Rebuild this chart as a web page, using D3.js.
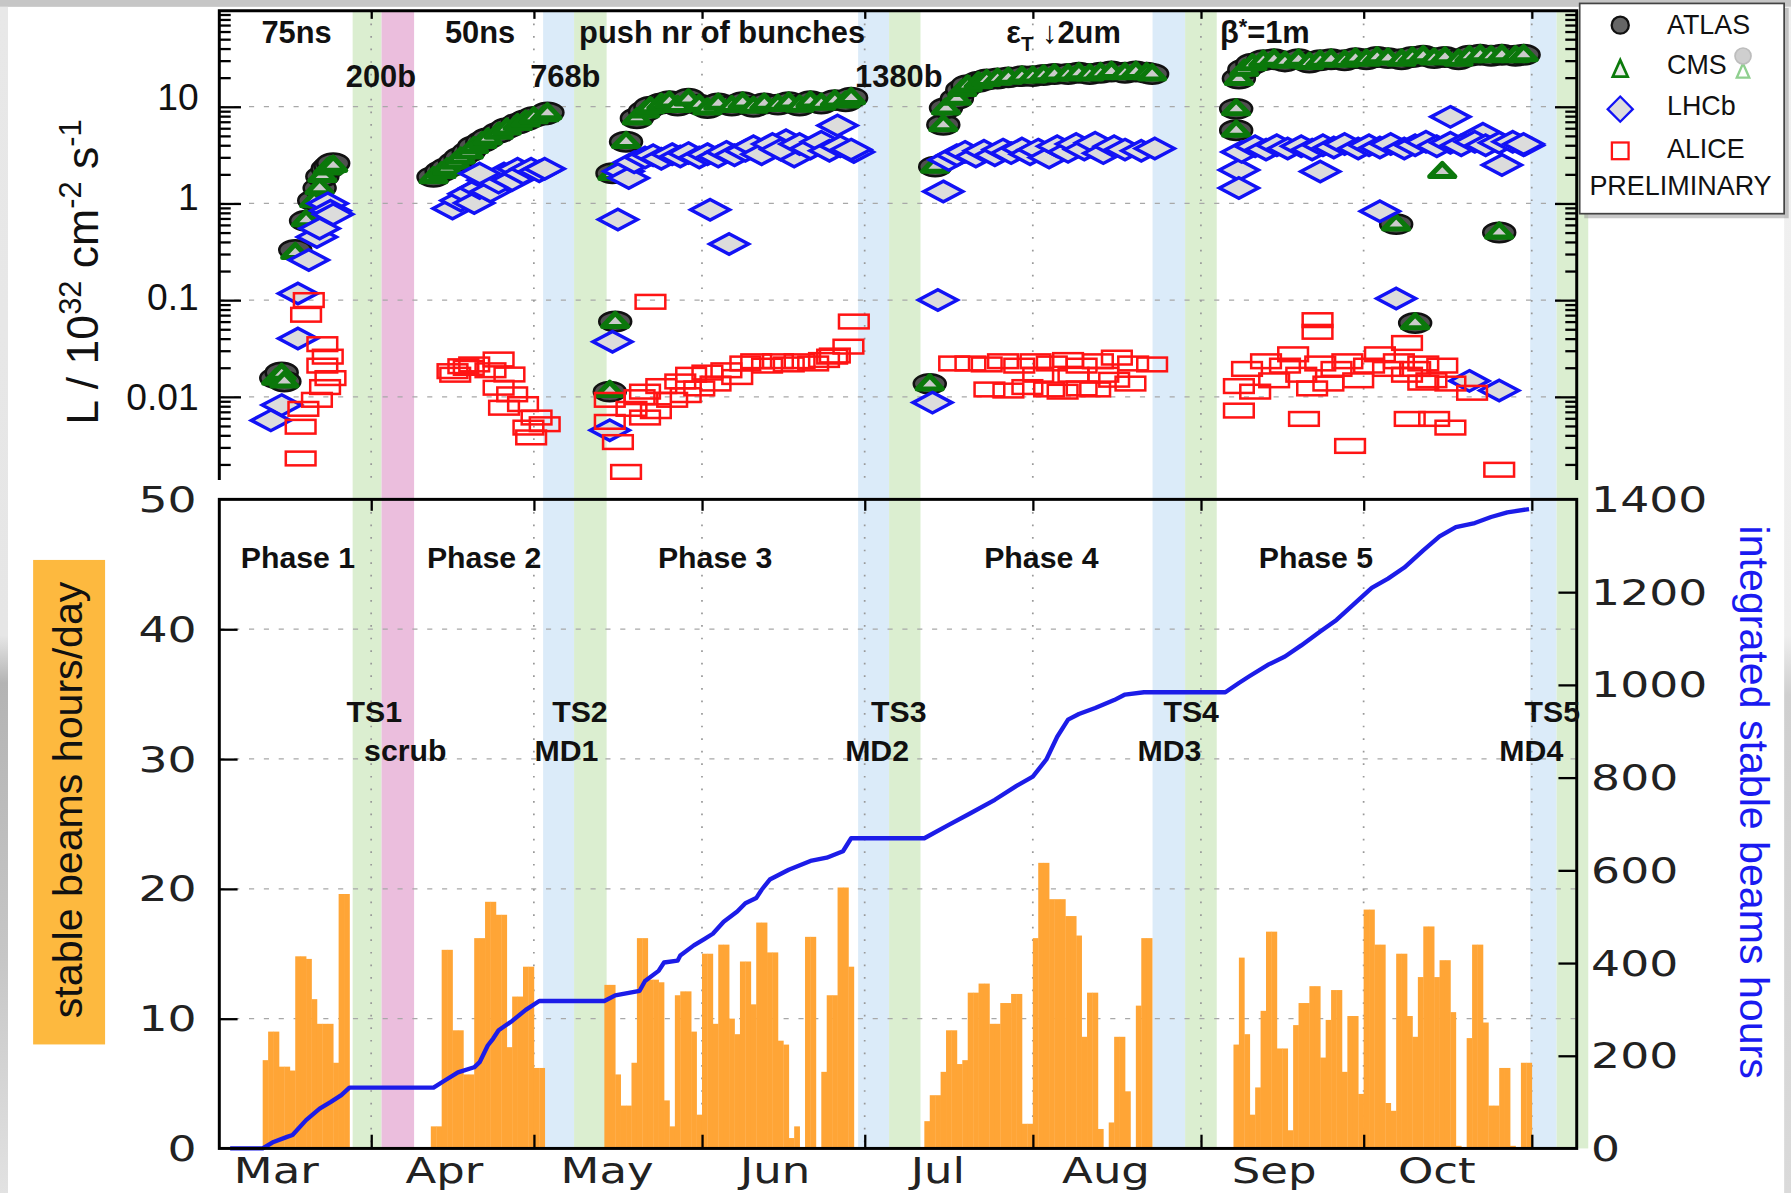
<!DOCTYPE html>
<html><head><meta charset="utf-8">
<script src="https://cdn.jsdelivr.net/npm/d3@7/dist/d3.min.js"></script>
<style>html,body{margin:0;padding:0;background:#fff;overflow:hidden}</style>
</head><body>
<svg id="chart"></svg>
<script>
// ---------------- DATA ----------------
const xDomain = ["2011-03-04", "2011-11-09T07"];
const monthNames = ["Mar","Apr","May","Jun","Jul","Aug","Sep","Oct"];
const monthStarts = ["2011-03-01","2011-04-01","2011-05-01","2011-06-01","2011-07-01","2011-08-01","2011-09-01","2011-10-01","2011-11-01"];
const yTopDomain = [0.00138, 98];
const yTopTicks = [10, 1, 0.1, 0.01];
const yTopLabels = ["10", "1", "0.1", "0.01"];
const yLeftTicks = [0, 10, 20, 30, 40, 50];
const yRightTicks = [0, 200, 400, 600, 800, 1000, 1200, 1400];

// shaded periods: [start, end, kind]
const bands = [
  ["2011-03-28T14","2011-04-02T22","TS"],
  ["2011-04-02T22","2011-04-08T22","scrub"],
  ["2011-05-02T17","2011-05-08T10","MD"],
  ["2011-05-08T10","2011-05-14T10","TS"],
  ["2011-06-29T19","2011-07-05T12","MD"],
  ["2011-07-05T12","2011-07-11T07","TS"],
  ["2011-08-23T02","2011-08-29T02","MD"],
  ["2011-08-29T02","2011-09-03T22","TS"],
  ["2011-10-31T17","2011-11-05T14","MD"],
  ["2011-11-05T14","2011-11-11T10","TS"]
];

// stable beam hours per day
const dailyHours = [
["2011-03-12",6.8],["2011-03-13",9.0],["2011-03-14",9.0],["2011-03-15",6.3],["2011-03-16",6.3],["2011-03-17",6.0],["2011-03-18",14.8],["2011-03-19",14.8],["2011-03-20",14.6],["2011-03-21",11.5],["2011-03-22",9.6],["2011-03-23",9.6],["2011-03-24",9.6],["2011-03-25",6.6],["2011-03-26",19.6],["2011-03-27",19.6],
["2011-04-12",1.7],["2011-04-13",1.7],["2011-04-14",15.3],["2011-04-15",15.3],["2011-04-16",9.1],["2011-04-17",9.1],["2011-04-18",5.7],["2011-04-19",5.7],["2011-04-20",16.2],["2011-04-21",16.2],["2011-04-22",19.0],["2011-04-23",19.0],["2011-04-24",18.0],["2011-04-25",18.0],["2011-04-26",7.8],["2011-04-27",11.7],["2011-04-28",11.7],["2011-04-29",14.0],["2011-04-30",14.0],["2011-05-01",6.2],["2011-05-02",6.2],
["2011-05-14",12.6],["2011-05-15",12.6],["2011-05-16",5.7],["2011-05-17",3.3],["2011-05-18",3.3],["2011-05-19",6.6],["2011-05-20",16.2],["2011-05-21",16.2],["2011-05-22",13.0],["2011-05-23",13.0],["2011-05-24",12.8],["2011-05-25",3.7],["2011-05-26",1.7],["2011-05-27",11.8],["2011-05-28",12.1],["2011-05-29",12.1],["2011-05-30",9.0],["2011-05-31",2.6],
["2011-06-01",15.0],["2011-06-02",15.0],["2011-06-03",9.6],["2011-06-04",15.7],["2011-06-05",15.7],["2011-06-06",10.0],["2011-06-07",8.8],["2011-06-08",14.4],["2011-06-09",14.4],["2011-06-10",11.1],["2011-06-11",17.4],["2011-06-12",17.4],["2011-06-13",15.1],["2011-06-14",15.1],["2011-06-15",8.3],["2011-06-16",8.0],["2011-06-17",0.8],["2011-06-18",1.7],["2011-06-20",16.3],["2011-06-21",16.3],["2011-06-23",5.9],["2011-06-24",11.8],["2011-06-25",11.8],["2011-06-26",20.1],["2011-06-27",20.1],["2011-06-28",14.0],
["2011-07-12",2.1],["2011-07-13",4.1],["2011-07-14",4.1],["2011-07-15",5.9],["2011-07-16",9.1],["2011-07-17",9.1],["2011-07-18",6.5],["2011-07-19",6.8],["2011-07-20",12.0],["2011-07-21",12.0],["2011-07-22",12.7],["2011-07-23",12.7],["2011-07-24",9.6],["2011-07-25",9.6],["2011-07-26",11.2],["2011-07-27",11.2],["2011-07-28",11.9],["2011-07-29",11.9],["2011-07-30",1.9],["2011-07-31",1.9],
["2011-08-01",16.2],["2011-08-02",22.0],["2011-08-03",22.0],["2011-08-04",19.2],["2011-08-05",19.2],["2011-08-06",19.2],["2011-08-07",17.9],["2011-08-08",17.9],["2011-08-09",16.4],["2011-08-10",8.6],["2011-08-11",12.0],["2011-08-12",12.0],["2011-08-13",1.5],["2011-08-15",2.0],["2011-08-16",8.6],["2011-08-17",8.6],["2011-08-18",4.4],["2011-08-20",11.0],["2011-08-21",16.2],["2011-08-22",16.2],
["2011-09-07",8.0],["2011-09-08",14.7],["2011-09-09",8.8],["2011-09-10",2.6],["2011-09-11",4.7],["2011-09-12",10.6],["2011-09-13",16.7],["2011-09-14",16.7],["2011-09-15",7.7],["2011-09-16",7.7],["2011-09-17",1.4],["2011-09-18",9.5],["2011-09-19",11.2],["2011-09-20",11.2],["2011-09-21",12.5],["2011-09-22",12.5],["2011-09-23",7.0],["2011-09-24",9.9],["2011-09-25",12.2],["2011-09-26",12.2],["2011-09-27",5.9],["2011-09-28",10.2],["2011-09-29",10.2],["2011-09-30",4.2],
["2011-10-01",18.4],["2011-10-02",18.4],["2011-10-03",15.7],["2011-10-04",15.7],["2011-10-05",3.5],["2011-10-06",2.9],["2011-10-07",15.0],["2011-10-08",15.0],["2011-10-09",10.2],["2011-10-10",8.6],["2011-10-11",13.2],["2011-10-12",17.1],["2011-10-13",17.1],["2011-10-14",13.2],["2011-10-15",14.5],["2011-10-16",14.5],["2011-10-17",10.5],["2011-10-18",0.2],["2011-10-20",8.5],["2011-10-21",15.7],["2011-10-22",15.7],["2011-10-23",9.7],["2011-10-24",3.3],["2011-10-25",3.3],["2011-10-26",6.2],["2011-10-27",6.2],["2011-10-28",0.2],["2011-10-30",6.6],["2011-10-31",6.6]
];

// integrated stable beams hours
const integratedHours = [
["2011-03-06",0],["2011-03-12",0],["2011-03-14",14],["2011-03-16T12",25],["2011-03-17T12",29],["2011-03-20",61],["2011-03-22T12",86],["2011-03-24T12",100],["2011-03-26T12",115],["2011-03-28",131],
["2011-04-12T12",131],["2011-04-14T12",146],["2011-04-17",164],["2011-04-20",175],["2011-04-21",186],["2011-04-22T12",222],["2011-04-23T12",237],["2011-04-24T12",255],["2011-04-27",275],["2011-04-29T12",299],["2011-05-02",318],
["2011-05-14",318],["2011-05-16",330],["2011-05-20T12",340],["2011-05-21T12",361],["2011-05-24",383],["2011-05-25",401],["2011-05-27T12",405],["2011-05-28",416],["2011-05-30T12",438],["2011-06-01T12",452],["2011-06-03",463],["2011-06-05",489],["2011-06-07T12",511],["2011-06-09",529],["2011-06-11",540],["2011-06-12",558],["2011-06-13T12",580],["2011-06-17",601],["2011-06-21",620],["2011-06-24",627],["2011-06-27",641],["2011-06-28T12",669],
["2011-07-12",669],["2011-07-16T12",698],["2011-07-20T12",723],["2011-07-25",752],["2011-07-29",782],["2011-08-01",802],["2011-08-03T12",839],["2011-08-05T12",888],["2011-08-07T12",925],["2011-08-09T12",937],["2011-08-12T12",950],["2011-08-16",967],["2011-08-18",979],["2011-08-21T12",984],
["2011-09-05T12",984],["2011-09-08",1004],["2011-09-10",1019],["2011-09-13T12",1044],["2011-09-16T12",1061],["2011-09-19T12",1085],["2011-09-23",1115],["2011-09-26",1140],["2011-09-29",1172],["2011-10-02T12",1209],["2011-10-05T12",1229],["2011-10-08T12",1253],["2011-10-12",1290],["2011-10-15",1320],["2011-10-18",1340],["2011-10-21T12",1349],["2011-10-24T12",1362],["2011-10-27T12",1372],["2011-10-31T12",1379]
];

// peak luminosity per fill, units 1e32 cm^-2 s^-1
const atlasLumi = [
["2011-03-14T12",0.0156],["2011-03-15T12",0.0178],["2011-03-16",0.0144],["2011-03-18",0.33],["2011-03-20",0.66],["2011-03-21T12",1.07],["2011-03-22T12",1.44],["2011-03-23",1.9],["2011-03-24",2.3],["2011-03-24T12",2.45],["2011-03-25",2.6],
["2011-04-12T12",1.88],["2011-04-14",2.15],["2011-04-15",2.33],["2011-04-16T12",2.67],["2011-04-17T12",2.98],["2011-04-19",3.41],["2011-04-20",3.9],["2011-04-21T12",4.34],["2011-04-22T12",4.71],["2011-04-24T12",5.38],["2011-04-26",6.0],["2011-04-28",6.68],["2011-04-29T12",7.24],["2011-05-01",7.85],["2011-05-03",8.28],["2011-05-03T12",8.72],
["2011-05-15",0.0113],["2011-05-16",0.06],["2011-05-15T12",2.05],["2011-05-18",4.34],["2011-05-20",7.6],["2011-05-21T12",9.0],["2011-05-22T12",10],["2011-05-24T12",10.8],["2011-05-26",11.4],["2011-05-27T12",10.3],["2011-05-29T12",12.1],["2011-05-31T12",10.5],["2011-06-02",9.7],["2011-06-04",10.8],["2011-06-06T12",10.3],["2011-06-08T12",11.1],["2011-06-10T12",10],["2011-06-12T12",10.8],["2011-06-15",10.5],["2011-06-17",11.1],["2011-06-19",10.3],["2011-06-21",11.4],["2011-06-23",10.8],["2011-06-25T12",11.7],["2011-06-27T12",11.4],["2011-06-28T12",12.4],
["2011-07-13",0.0136],["2011-07-14",2.4],["2011-07-15T12",6.5],["2011-07-16",9.7],["2011-07-18",12.1],["2011-07-19",15],["2011-07-20",16.7],["2011-07-22",18.1],["2011-07-23T12",19.1],["2011-07-25T12",19.6],["2011-07-27T12",20.1],["2011-07-30",20.7],["2011-08-01",20.7],["2011-08-03",21.3],["2011-08-05",21.8],["2011-08-07T12",21.8],["2011-08-09T12",22.4],["2011-08-11T12",21.8],["2011-08-13T12",22.4],["2011-08-15T12",23.1],["2011-08-18",22.4],["2011-08-20",23.1],["2011-08-22",22.4],["2011-08-23",21.8],
["2011-09-07T12",9.5],["2011-09-07T12",5.7],["2011-09-08",19.6],["2011-09-09",24.3],["2011-09-10T12",27.8],["2011-09-12T12",30.2],["2011-09-14T12",31],["2011-09-16T12",29.4],["2011-09-19",31],["2011-09-21",28.6],["2011-09-23",30.2],["2011-09-25",31],["2011-09-27T12",30.2],["2011-09-29T12",31.8],["2011-10-01T12",31],["2011-10-03T12",32.7],["2011-10-05T12",31.8],["2011-10-08",31],["2011-10-10",32.7],["2011-10-12",33.6],["2011-10-14",31.8],["2011-10-16",32.7],["2011-10-18T12",31],["2011-10-20T12",33.6],["2011-10-22T12",34.5],["2011-10-24T12",33.6],["2011-10-26T12",34.5],["2011-10-29",33.6],["2011-10-30T12",34.5],
["2011-10-07",0.61],["2011-10-26",0.5],["2011-10-10T12",0.058]
];
const cmsLumi = [
["2011-03-14T12",0.016],["2011-03-15T12",0.018],["2011-03-16",0.015],["2011-03-18",0.32],["2011-03-20",0.7],["2011-03-21T12",1.1],["2011-03-22T12",1.5],["2011-03-23",2.0],["2011-03-24",2.4],["2011-03-24T12",2.5],["2011-03-25",2.55],
["2011-04-12T12",1.95],["2011-04-14",2.2],["2011-04-15",2.4],["2011-04-16T12",2.75],["2011-04-17T12",3.1],["2011-04-19",3.5],["2011-04-20",4.0],["2011-04-21T12",4.5],["2011-04-22T12",4.9],["2011-04-24T12",5.6],["2011-04-26",6.2],["2011-04-28",6.9],["2011-04-29T12",7.5],["2011-05-01",8.1],["2011-05-03",8.5],["2011-05-03T12",8.9],
["2011-05-15",0.012],["2011-05-16",0.062],["2011-05-15T12",2.1],["2011-05-18",4.5],["2011-05-20",7.9],["2011-05-21T12",9.3],["2011-05-22T12",10.3],["2011-05-24T12",11.2],["2011-05-26",11.8],["2011-05-27T12",10.6],["2011-05-29T12",12.4],["2011-05-31T12",10.9],["2011-06-02",10.0],["2011-06-04",11.2],["2011-06-06T12",10.6],["2011-06-08T12",11.5],["2011-06-10T12",10.4],["2011-06-12T12",11.2],["2011-06-15",10.9],["2011-06-17",11.5],["2011-06-19",10.7],["2011-06-21",11.8],["2011-06-23",11.2],["2011-06-25T12",12.1],["2011-06-27T12",11.8],["2011-06-28T12",12.8],
["2011-07-13",0.014],["2011-07-14",2.5],["2011-07-15T12",6.7],["2011-07-16",10.0],["2011-07-18",12.6],["2011-07-19",15.5],["2011-07-20",17.3],["2011-07-22",18.7],["2011-07-23T12",19.7],["2011-07-25T12",20.3],["2011-07-27T12",20.8],["2011-07-30",21.4],["2011-08-01",21.4],["2011-08-03",22.0],["2011-08-05",22.5],["2011-08-07T12",22.5],["2011-08-09T12",23.2],["2011-08-11T12",22.5],["2011-08-13T12",23.2],["2011-08-15T12",23.9],["2011-08-18",23.2],["2011-08-20",23.9],["2011-08-22",23.2],["2011-08-23",22.5],
["2011-09-07T12",9.8],["2011-09-07T12",5.9],["2011-09-08",20.2],["2011-09-09",25.1],["2011-09-10T12",28.7],["2011-09-12T12",31.2],["2011-09-14T12",32.0],["2011-09-16T12",30.4],["2011-09-19",32.0],["2011-09-21",29.6],["2011-09-23",31.2],["2011-09-25",32.0],["2011-09-27T12",31.2],["2011-09-29T12",32.9],["2011-10-01T12",32.0],["2011-10-03T12",33.8],["2011-10-05T12",32.9],["2011-10-08",32.0],["2011-10-10",33.8],["2011-10-12",34.7],["2011-10-14",32.9],["2011-10-16",33.8],["2011-10-18T12",32.0],["2011-10-20T12",34.7],["2011-10-22T12",35.6],["2011-10-24T12",34.7],["2011-10-26T12",35.6],["2011-10-29",34.7],["2011-10-30T12",35.6],
["2011-10-07",0.63],["2011-10-26",0.52],["2011-10-10T12",0.060],["2011-10-15T12",2.2]
];
const lhcbLumi = [
["2011-03-15T12",0.0082],["2011-03-13T12",0.0057],["2011-03-18T12",0.040],["2011-03-18T12",0.117],["2011-03-20T12",0.26],["2011-03-22",0.45],["2011-03-22T12",0.55],["2011-03-24",1.0],["2011-03-24T12",0.84],["2011-03-25",0.77],
["2011-04-16",0.885],["2011-04-17T12",1.07],["2011-04-19",1.26],["2011-04-20",1.01],["2011-04-21",1.44],["2011-04-22T12",1.74],["2011-04-23",1.33],["2011-04-24T12",1.64],["2011-04-25T12",2.04],["2011-04-27",1.74],["2011-04-28",2.28],["2011-04-29",2.04],["2011-04-30T12",2.28],["2011-05-02",2.15],["2011-05-03",2.28],["2011-04-21",2.04],
["2011-05-17T12",2.15],["2011-05-18T12",1.83],["2011-05-16T12",0.68],["2011-06-02T12",0.86],["2011-06-06",0.38],["2011-05-15T12",0.037],["2011-05-15",0.0045],["2011-06-26",6.4],["2011-06-29",3.4],["2011-06-18",3.05],["2011-06-16T12",4.5],
["2011-05-19T12",2.67],["2011-05-21T12",2.98],["2011-05-23",3.14],["2011-05-24T12",2.90],["2011-05-26T12",3.23],["2011-05-28",3.06],["2011-05-29T12",3.31],["2011-05-31T12",2.98],["2011-06-02",3.23],["2011-06-04",3.06],["2011-06-05T12",3.41],["2011-06-07",3.14],["2011-06-09",3.50],["2011-06-10T12",3.90],["2011-06-12",3.23],["2011-06-14",4.11],["2011-06-15T12",3.60],["2011-06-19",4.11],["2011-06-21",3.69],["2011-06-23",4.34],["2011-06-24T12",3.50],["2011-06-26T12",3.90],["2011-06-28T12",3.60],
["2011-07-15T12",1.33],["2011-07-14T12",0.1],["2011-07-13T12",0.0087],
["2011-07-16T12",2.82],["2011-07-18",3.14],["2011-07-19T12",3.41],["2011-07-21T12",3.06],["2011-07-23",3.50],["2011-07-25",3.14],["2011-07-26T12",3.60],["2011-07-28",3.31],["2011-07-30",3.69],["2011-07-31T12",3.23],["2011-08-02",3.60],["2011-08-04",2.98],["2011-08-05T12",3.90],["2011-08-07T12",3.41],["2011-08-09",4.11],["2011-08-10T12",3.60],["2011-08-12T12",4.23],["2011-08-14",3.31],["2011-08-16",3.90],["2011-08-18",3.60],["2011-08-21",3.50],["2011-08-23T12",3.69],
["2011-09-08",2.22],["2011-09-08",1.44],["2011-09-23",2.14],["2011-10-17",7.85],["2011-10-26T12",2.5],["2011-10-04",0.83],["2011-10-07",0.104],["2011-10-20T12",0.0146],["2011-10-26",0.0116],["2011-10-30T12",3.98],["2011-10-23",5.26],
["2011-09-08T12",3.41],["2011-09-11",3.90],["2011-09-13",3.60],["2011-09-15",4.0],["2011-09-17",3.69],["2011-09-19T12",3.90],["2011-09-21T12",3.60],["2011-09-23T12",4.0],["2011-09-25T12",3.79],["2011-09-27T12",4.11],["2011-09-30",3.69],["2011-10-02",4.0],["2011-10-04",3.79],["2011-10-06",4.11],["2011-10-08T12",3.69],["2011-10-10T12",4.0],["2011-10-12T12",4.34],["2011-10-14T12",3.90],["2011-10-17",4.23],["2011-10-19",4.0],["2011-10-21T12",4.34],["2011-10-23T12",4.0],["2011-10-26",4.23],["2011-10-28T12",4.34],["2011-10-30T12",4.11]
];
const aliceLumi = [
["2011-03-20T12",0.1],["2011-03-20",0.0705],["2011-03-23",0.035],["2011-03-24",0.026],["2011-03-23",0.021],["2011-03-24T12",0.0156],["2011-03-23T12",0.0126],["2011-03-22",0.0093],["2011-03-19T12",0.0075],["2011-03-19",0.0049],["2011-03-19",0.0023],
["2011-04-16",0.0184],["2011-04-18",0.0207],["2011-04-20",0.0216],["2011-04-24T12",0.0243],["2011-04-26T12",0.017],["2011-04-24T12",0.0124],["2011-04-27",0.0106],["2011-04-25T12",0.0077],["2011-04-29",0.0084],["2011-05-01T12",0.0061],["2011-04-30",0.0048],["2011-05-03",0.0052],["2011-04-30T12",0.0038],["2011-04-16T12",0.0169],["2011-04-19",0.0199],["2011-04-23",0.0188],
["2011-05-22T12",0.096],["2011-06-29",0.06],["2011-06-28",0.033],["2011-06-25",0.026],["2011-05-18",0.00167],["2011-05-16T12",0.0034],["2011-05-15",0.0055],["2011-05-15",0.0093],["2011-05-19",0.0075],["2011-05-20T12",0.0099],["2011-05-21T12",0.0113],["2011-05-23T12",0.0071],["2011-05-24T12",0.0129],["2011-05-26T12",0.0093],["2011-05-28",0.0144],["2011-05-29",0.0104],["2011-05-30",0.0169],["2011-05-31T12",0.0122],["2011-06-02",0.0178],["2011-06-03T12",0.0137],["2011-06-05T12",0.0188],["2011-06-07T12",0.016],["2011-06-09",0.0221],["2011-06-11",0.0233],["2011-06-13",0.021],["2011-06-15",0.0233],["2011-06-17",0.0216],["2011-06-19",0.0233],["2011-06-21T12",0.0221],["2011-06-23T12",0.024],["2011-06-25T12",0.0267],["2011-05-21T12",0.0061],
["2011-07-17T12",0.0221],["2011-07-20T12",0.0221],["2011-07-23T12",0.0216],["2011-07-26T12",0.0233],["2011-07-29T12",0.021],["2011-08-01T12",0.0233],["2011-08-04T12",0.0221],["2011-08-07T12",0.024],["2011-08-10",0.021],["2011-08-13",0.0233],["2011-08-16T12",0.0254],["2011-08-19T12",0.0221],["2011-08-23",0.0216],
["2011-07-24",0.0119],["2011-07-27T12",0.0116],["2011-07-31",0.0126],["2011-08-04",0.0119],["2011-08-06T12",0.0113],["2011-08-10",0.0122],["2011-08-12T12",0.0119],["2011-08-16",0.015],["2011-08-19",0.0137],["2011-08-02",0.0169],["2011-08-08T12",0.0169],["2011-08-14",0.0169],
["2011-09-22T12",0.062],["2011-09-22T12",0.047],["2011-09-08",0.0072],["2011-09-20",0.0059],["2011-09-28T12",0.0031],["2011-10-09T12",0.0059],["2011-10-14",0.0059],["2011-10-17",0.0048],["2011-10-26",0.00176],["2011-10-09",0.036],["2011-10-21",0.011],
["2011-09-08",0.0129],["2011-09-09T12",0.0194],["2011-09-11",0.0113],["2011-09-13",0.0233],["2011-09-14T12",0.0148],["2011-09-16T12",0.021],["2011-09-18",0.0275],["2011-09-19T12",0.0169],["2011-09-21T12",0.0122],["2011-09-23",0.0221],["2011-09-24T12",0.0137],["2011-09-26",0.0194],["2011-09-28",0.0233],["2011-09-30",0.0148],["2011-10-02",0.021],["2011-10-04",0.0275],["2011-10-05T12",0.0194],["2011-10-07T12",0.0233],["2011-10-09",0.0169],["2011-10-12",0.0221],["2011-10-13T12",0.0148],["2011-10-15T12",0.021],["2011-10-12",0.014],["2011-10-10T12",0.0194],["2011-10-17",0.0137]
];

const topNotes = [["75ns","2011-03-18T06",1],["200b","2011-04-02T19",2],["50ns","2011-04-21T02",1],["768b","2011-05-06T19",2],["push nr of bunches","2011-06-04T17",1],["1380b","2011-07-07T07",2]];
const phaseNotes = [["Phase 1","2011-03-18T12"],["Phase 2","2011-04-21T20"],["Phase 3","2011-06-03T10"],["Phase 4","2011-08-02T14"],["Phase 5","2011-09-22T05"]];
const stopNotes = [["TS1","2011-04-01T14",1],["scrub","2011-04-07T07",2],["TS2","2011-05-09T12",1],["MD1","2011-05-07",2],["TS3","2011-07-07T07",1],["MD2","2011-07-03T07",2],["TS4","2011-08-30T05",1],["MD3","2011-08-26T05",2],["TS5","2011-11-04T19",1],["MD4","2011-10-31T22",2]];
const legendNames = ["ATLAS","CMS","LHCb","ALICE"];

// ---------------- DRAWING ----------------
const W = 1568, H = 1044;
const SANS = "'Liberation Sans', Arial, Helvetica, sans-serif";
const WIDE = "'DejaVu Sans', Verdana, sans-serif";
const svg = d3.select("#chart").attr("width", 1791).attr("height", 1193)
  .attr("viewBox", `0 0 ${W} ${H}`).attr("preserveAspectRatio", "none");

const parseT = s => { const [ds, h] = s.split("T"); const t = d3.utcParse("%Y-%m-%d")(ds); return h ? d3.utcHour.offset(t, +h) : t; };

const X0 = 192, X1 = 1380.4, TT = 9.5, TB = 420, BT = 437, BB = 1005;
const x = d3.scaleUtc().domain(xDomain.map(parseT)).range([X0, X1]);
const yT = d3.scaleLog().domain(yTopDomain).range([TB, TT]);
const yL = d3.scaleLinear().domain([0, 50]).range([BB, BT]);
const yR = d3.scaleLinear().domain([0, 1400]).range([BB, BT]);

const defs = svg.append("defs");
defs.append("clipPath").attr("id", "topclip").append("rect")
  .attr("x", X0).attr("y", TT).attr("width", X1 - X0).attr("height", TB - TT);
const lg = defs.append("linearGradient").attr("id", "lg").attr("x1", 0).attr("x2", 0).attr("y1", 0).attr("y2", 1);
[[0,"#e8e8e8"],[0.53,"#e6e6e6"],[0.57,"#b4b4b4"],[0.8,"#c6c6c6"],[1,"#e2e2e2"]].forEach(([o,c]) => lg.append("stop").attr("offset", o).attr("stop-color", c));
const rg = defs.append("linearGradient").attr("id", "rg").attr("x1", 0).attr("x2", 0).attr("y1", 0).attr("y2", 1);
[[0,"#f0f0f0"],[0.53,"#eeeeee"],[0.58,"#cfcfcf"],[1,"#dadada"]].forEach(([o,c]) => rg.append("stop").attr("offset", o).attr("stop-color", c));

// background
svg.append("rect").attr("width", W).attr("height", H).attr("fill", "#fff");
svg.append("rect").attr("x", 0).attr("y", 0).attr("width", W).attr("height", 6).attr("fill", "#c6c6c6");
svg.append("rect").attr("x", 0).attr("y", 6).attr("width", 7).attr("height", H - 6).attr("fill", "url(#lg)");
svg.append("rect").attr("x", 1562).attr("y", 6).attr("width", 6).attr("height", H - 6).attr("fill", "url(#rg)");

// shaded periods
const bandFill = { TS: "#dbeed0", MD: "#dbebf9", scrub: "#ebbedd" };
svg.append("g").selectAll("rect").data(bands).join("rect")
  .attr("x", d => x(parseT(d[0]))).attr("width", d => x(parseT(d[1])) - x(parseT(d[0])))
  .attr("y", TT).attr("height", BB - TT).attr("fill", d => bandFill[d[2]]);

// grid lines
const months = monthStarts.map(parseT).filter(d => d >= x.domain()[0] && d <= x.domain()[1]);
const grid = svg.append("g").attr("fill", "none");
grid.selectAll(".ht").data(yTopTicks).join("line").attr("x1", X0).attr("x2", X1)
  .attr("y1", d => yT(d)).attr("y2", d => yT(d)).attr("stroke", "#a8a8a8").attr("stroke-width", 1.1).attr("stroke-dasharray", "4.5,8.5");
grid.selectAll(".vt").data(months).join("line").attr("x1", d => x(d)).attr("x2", d => x(d))
  .attr("y1", TT).attr("y2", TB).attr("stroke", "#999").attr("stroke-width", 1.5).attr("stroke-dasharray", "1.5,9.5");
grid.selectAll(".hb").data([10, 20, 30, 40]).join("line").attr("x1", X0).attr("x2", X1)
  .attr("y1", d => yL(d)).attr("y2", d => yL(d)).attr("stroke", "#a8a8a8").attr("stroke-width", 1.1).attr("stroke-dasharray", "4.5,8.5");
grid.selectAll(".vb").data(months).join("line").attr("x1", d => x(d)).attr("x2", d => x(d))
  .attr("y1", BT).attr("y2", BB).attr("stroke", "#999").attr("stroke-width", 1.5).attr("stroke-dasharray", "1.5,9.5");

// daily bars
svg.append("g").selectAll("rect").data(dailyHours).join("rect")
  .attr("x", d => x(parseT(d[0])))
  .attr("width", d => x(d3.utcDay.offset(parseT(d[0]), 1)) - x(parseT(d[0])) + 0.3)
  .attr("y", d => yL(d[1])).attr("height", d => BB - yL(d[1]))
  .attr("fill", "#ffa536");

// integrated line
svg.append("path").datum(integratedHours)
  .attr("d", d3.line().x(d => x(parseT(d[0]))).y(d => yR(d[1])))
  .attr("fill", "none").attr("stroke", "#1c1ce8").attr("stroke-width", 3.8).attr("stroke-linejoin", "round");

// scatter markers
const sc = svg.append("g").attr("clip-path", "url(#topclip)");
sc.append("g").selectAll("ellipse").data(atlasLumi).join("ellipse")
  .attr("cx", d => x(parseT(d[0]))).attr("cy", d => yT(d[1])).attr("rx", 14).attr("ry", 8.5)
  .attr("fill", "#505050").attr("stroke", "#111").attr("stroke-width", 2.2);
sc.append("g").selectAll("path").data(cmsLumi).join("path")
  .attr("transform", d => `translate(${x(parseT(d[0]))},${yT(d[1])})`).attr("d", "M0,-6L11,5.5L-11,5.5Z")
  .attr("fill", "#cbcbcb").attr("stroke", "#0b780b").attr("stroke-width", 4.4).attr("stroke-linejoin", "round");
sc.append("g").selectAll("path").data(lhcbLumi).join("path")
  .attr("transform", d => `translate(${x(parseT(d[0]))},${yT(d[1])})`).attr("d", "M0,-9L17,0L0,9L-17,0Z")
  .attr("fill", "#dcdcdc").attr("stroke", "#1212f5").attr("stroke-width", 3);
sc.append("g").selectAll("rect").data(aliceLumi).join("rect")
  .attr("x", d => x(parseT(d[0])) - 13).attr("y", d => yT(d[1]) - 6).attr("width", 26).attr("height", 12)
  .attr("fill", "none").attr("stroke", "#ff1414").attr("stroke-width", 2.2);

// axes ticks (through d3 axes)
function ticks(g, axis) { g.call(axis); g.select(".domain").remove(); g.selectAll("text").remove();
  g.selectAll("line").attr("stroke", "#000").attr("stroke-width", 2); }
const topAll = yT.ticks();
const topMajor = topAll.filter(v => Math.abs(Math.log10(v) - Math.round(Math.log10(v))) < 1e-6);
const topMinor = topAll.filter(v => !topMajor.includes(v));
ticks(svg.append("g").attr("transform", `translate(${X0},0)`), d3.axisRight(yT).tickValues(topMajor).tickSize(19));
ticks(svg.append("g").attr("transform", `translate(${X0},0)`), d3.axisRight(yT).tickValues(topMinor).tickSize(10));
ticks(svg.append("g").attr("transform", `translate(${X1},0)`), d3.axisLeft(yT).tickValues(topMajor).tickSize(19));
ticks(svg.append("g").attr("transform", `translate(${X1},0)`), d3.axisLeft(yT).tickValues(topMinor).tickSize(10));
ticks(svg.append("g").attr("transform", `translate(0,${TT})`), d3.axisBottom(x).tickValues(months).tickSize(7));
ticks(svg.append("g").attr("transform", `translate(${X0},0)`), d3.axisRight(yL).tickValues(yLeftTicks.slice(1, -1)).tickSize(16));
ticks(svg.append("g").attr("transform", `translate(${X1},0)`), d3.axisLeft(yR).tickValues(yRightTicks.slice(1, -1)).tickSize(16));
ticks(svg.append("g").attr("transform", `translate(0,${BB})`), d3.axisTop(x).tickValues(months).tickSize(12));
ticks(svg.append("g").attr("transform", `translate(0,${BT})`), d3.axisBottom(x).tickValues(months).tickSize(10));

// frames
const fr = svg.append("g").attr("stroke", "#000").attr("stroke-width", 2.6).attr("fill", "none");
fr.append("path").attr("d", `M${X0},${TB}V${TT}H${X1}V${TB}`);
fr.append("rect").attr("x", X0).attr("y", BT).attr("width", X1 - X0).attr("height", BB - BT);

// tick labels
const tl = svg.append("g").style("font-family", SANS).style("font-size", "32.6px").attr("fill", "#111");
yTopTicks.forEach((v, i) => tl.append("text").attr("x", 174).attr("y", yT(v) + 3 + i * 3).attr("text-anchor", "end").text(yTopLabels[i]));

const wl = svg.append("g").style("font-family", WIDE).style("font-size", "30.5px").attr("fill", "#222");
yLeftTicks.forEach(v => wl.append("text").attr("transform", `translate(172,${yL(v) + 11}) scale(1.31,1)`).attr("text-anchor", "end").text(v));
yRightTicks.forEach(v => wl.append("text").attr("transform", `translate(1393,${yR(v) + 11}) scale(1.31,1)`).attr("text-anchor", "start").text(v));
monthNames.forEach((m, i) => {
  const cx = x(d3.utcHour.offset(parseT(monthStarts[i]), 324));
  wl.append("text").attr("transform", `translate(${cx},1035) scale(1.27,1)`).attr("text-anchor", "middle").style("font-size", "31px").text(m);
});

// axis titles
const yl = svg.append("text").attr("transform", "translate(86,238) rotate(-90)").attr("text-anchor", "middle")
  .style("font-family", SANS).style("font-size", "39px").attr("fill", "#111");
yl.append("tspan").text("L / 10");
yl.append("tspan").attr("dy", -15).style("font-size", "27px").text("32");
yl.append("tspan").attr("dy", 15).text(" cm");
yl.append("tspan").attr("dy", -15).style("font-size", "27px").text("-2");
yl.append("tspan").attr("dy", 15).text(" s");
yl.append("tspan").attr("dy", -15).style("font-size", "27px").text("-1");

svg.append("rect").attr("x", 29).attr("y", 490).attr("width", 63).attr("height", 424).attr("fill", "#fdb93f");
svg.append("text").attr("transform", "translate(72,700) rotate(-90)").attr("text-anchor", "middle")
  .style("font-family", SANS).style("font-size", "36px").attr("fill", "#111").text("stable beams hours/day");
svg.append("text").attr("transform", "translate(1523,702) rotate(90)").attr("text-anchor", "middle")
  .style("font-family", SANS).style("font-size", "36px").attr("fill", "#1a1af0").text("integrated stable beams hours");

// annotations
const an = svg.append("g").style("font-family", SANS).style("font-weight", "bold").attr("fill", "#111");
topNotes.forEach(([t, d, row]) => an.append("text").attr("x", x(parseT(d))).attr("y", row === 1 ? 38 : 76)
  .attr("text-anchor", "middle").style("font-size", "27px").text(t));
const eps = an.append("text").attr("x", 881).attr("y", 38).style("font-size", "27px");
eps.append("tspan").text("ε");
eps.append("tspan").attr("dy", 7).style("font-size", "18px").text("T");
eps.append("tspan").attr("dy", -7).text(" ↓2um");
const bet = an.append("text").attr("x", 1068).attr("y", 38).style("font-size", "27px");
bet.append("tspan").text("β");
bet.append("tspan").attr("dy", -8).style("font-size", "19px").text("*");
bet.append("tspan").attr("dy", 8).text("=1m");
phaseNotes.forEach(([t, d]) => an.append("text").attr("x", x(parseT(d))).attr("y", 497)
  .attr("text-anchor", "middle").style("font-size", "26.5px").text(t));
stopNotes.forEach(([t, d, row]) => an.append("text").attr("x", x(parseT(d))).attr("y", row === 1 ? 632 : 666)
  .attr("text-anchor", "middle").style("font-size", "26.5px").text(t));

// legend
const lgG = svg.append("g");
lgG.append("rect").attr("x", 1387).attr("y", 7).attr("width", 179).attr("height", 184).attr("fill", "#9a9a9a").attr("opacity", 0.55);
lgG.append("rect").attr("x", 1383).attr("y", 3).attr("width", 179).attr("height", 184).attr("fill", "#fff").attr("stroke", "#444").attr("stroke-width", 1.5);
lgG.append("circle").attr("cx", 1418.5).attr("cy", 22).attr("r", 7.5).attr("fill", "#666").attr("stroke", "#111").attr("stroke-width", 2);
lgG.append("path").attr("transform", "translate(1418.5,60)").attr("d", "M0,-7.5L6.5,7L-6.5,7Z").attr("fill", "#eee").attr("stroke", "#0b7a0b").attr("stroke-width", 2.4);
lgG.append("path").attr("transform", "translate(1418.5,95.5)").attr("d", "M0,-11L11,0L0,11L-11,0Z").attr("fill", "#ddd").attr("stroke", "#1212f5").attr("stroke-width", 2);
lgG.append("rect").attr("x", 1411.2).attr("y", 124.7).attr("width", 14.6).attr("height", 14.6).attr("fill", "none").attr("stroke", "#ff1414").attr("stroke-width", 2);
lgG.append("path").attr("transform", "translate(1526,62)").attr("d", "M0,-6.5L5.5,6L-5.5,6Z").attr("fill", "none").attr("stroke", "#8fcf8f").attr("stroke-width", 2);
lgG.append("circle").attr("cx", 1526).attr("cy", 49).attr("r", 7).attr("fill", "#cfcfcf").attr("stroke", "#bdbdbd").attr("stroke-width", 1.5);
const legY = [29.5, 64.5, 101, 138.5];
legendNames.forEach((n, i) => lgG.append("text").attr("x", 1459.5).attr("y", legY[i])
  .style("font-family", SANS).style("font-size", "23.5px").attr("fill", "#111").text(n));
lgG.append("text").attr("x", 1391.5).attr("y", 170.5).style("font-family", SANS).style("font-size", "23.6px").attr("fill", "#111").text("PRELIMINARY");
</script>
</body></html>
